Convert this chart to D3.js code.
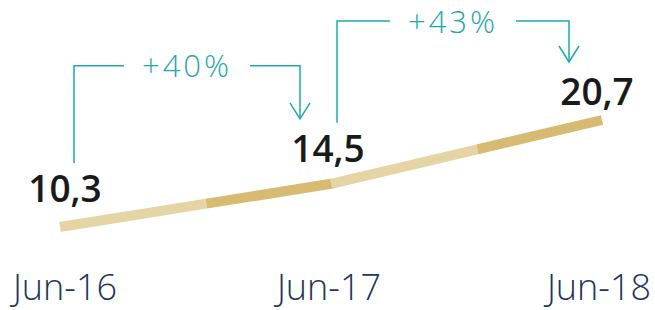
<!DOCTYPE html>
<html>
<head>
<meta charset="utf-8">
<script src="https://cdn.jsdelivr.net/npm/d3@7"></script>
<style>
  body { margin: 0; background: #fff; }
  svg { display: block; }
</style>
</head>
<body>
<div id="chart"></div>
<script>
// data
const periods = ["Jun-16", "Jun-17", "Jun-18"];
const values = [10.3, 14.5, 20.7];
const valueLabels = ["10,3", "14,5", "20,7"];
const growthLabels = ["+40%", "+43%"];

const width = 655;
const height = 310;

const teal = "#1fa9a9";
const goldLight = "#e6d5a4";
const goldDark = "#d8bb72";

const svg = d3.select("#chart")
  .append("svg")
  .attr("width", width)
  .attr("height", height);

// scales
const x = d3.scalePoint().domain(periods).range([60, 602]);
const y = d3.scaleLinear().domain([0, 20.7]).range([333, 120]);

const pts = periods.map((p, i) => [x(p), y(values[i])]);

// thick line, each step split into a light and a darker half
const line = d3.line();
const split = 0.54;
pts.slice(0, -1).forEach((p, i) => {
  const q = pts[i + 1];
  const m = d3.interpolateArray(p, q)(split);
  // darker half runs slightly past the point to close the joint
  const dir = [q[0] - m[0], q[1] - m[1]];
  const len = Math.hypot(dir[0], dir[1]);
  const ext = [q[0] + dir[0] / len * 1.5, q[1] + dir[1] / len * 1.5];
  svg.append("path")
    .attr("d", line([p, m]))
    .attr("stroke", goldLight)
    .attr("stroke-width", 10)
    .attr("fill", "none");
  svg.append("path")
    .attr("d", line([m, i < pts.length - 2 ? ext : q]))
    .attr("stroke", goldDark)
    .attr("stroke-width", 10)
    .attr("fill", "none");
});

// value labels
const labelLift = [25, 22, 15];
const labelY = pts.map((p, i) => p[1] - labelLift[i]);
const labelX = pts.map((p, i) => p[0] + [5, -3, -5][i]);

svg.selectAll(".value")
  .data(valueLabels)
  .enter()
  .append("text")
  .attr("class", "value")
  .attr("x", (d, i) => labelX[i])
  .attr("y", (d, i) => labelY[i])
  .attr("text-anchor", "middle")
  .style("font-family", "'Open Sans', 'Noto Sans', sans-serif")
  .style("font-weight", 600)
  .style("font-size", "37px")
  .style("fill", "#1a1a1a")
  .text((d) => d);

// period labels
svg.selectAll(".period")
  .data(periods)
  .enter()
  .append("text")
  .attr("class", "period")
  .attr("x", (d) => x(d) + [5, -2, -3][periods.indexOf(d)])
  .attr("y", 300)
  .attr("text-anchor", "middle")
  .style("font-family", "'Open Sans', 'Noto Sans', sans-serif")
  .style("font-weight", 300)
  .style("font-size", "36px")
  .style("fill", "#1c355e")
  .text((d) => d);

// growth arrows
const capH = 27;
const arrowLift = [118, 99];
growthLabels.forEach((g, i) => {
  const x0 = labelX[i] + 9;
  const x1 = labelX[i + 1] - 28;
  const yStart = labelY[i] - capH - 12;
  const yEnd = labelY[i + 1] - capH - 16;
  const level = pts[i + 1][1] - arrowLift[i];

  const grp = svg.append("g")
    .attr("fill", "none")
    .attr("stroke", teal)
    .attr("stroke-width", 1.5);

  const txt = svg.append("text")
    .attr("x", (x0 + x1) / 2)
    .attr("y", level + 11.5)
    .attr("text-anchor", "middle")
    .style("font-family", "'Open Sans', 'Noto Sans', sans-serif")
    .style("font-weight", 300)
    .style("font-size", "31px")
    .style("letter-spacing", "3px")
    .style("fill", teal)
    .text(g);

  const bb = txt.node().getBBox();
  const gap = 18;

  grp.append("path")
    .attr("d", line([[x0, yStart], [x0, level], [bb.x - gap, level]]));
  grp.append("path")
    .attr("d", line([[bb.x + bb.width + gap, level], [x1, level], [x1, yEnd]]));
  grp.append("path")
    .attr("d", line([[x1 - 10, yEnd - 16], [x1, yEnd], [x1 + 10, yEnd - 16]]));
});
</script>
</body>
</html>
